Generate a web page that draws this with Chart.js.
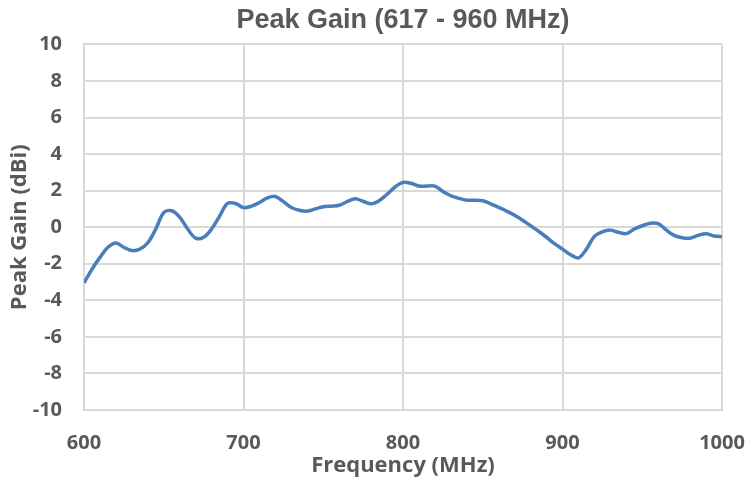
<!DOCTYPE html>
<html>
<head>
<meta charset="utf-8">
<script src="https://cdn.jsdelivr.net/npm/chart.js@4/dist/chart.umd.min.js"></script>
<style>
  html, body { margin: 0; padding: 0; background: #fff; }
  #wrap { width: 749px; height: 483px; }
</style>
</head>
<body>
<div id="wrap"><canvas id="gainChart" width="749" height="483"></canvas></div>
<script>
const freq = [600,605,610,615,620,625,630,635,640,645,650,655,660,665,670,675,680,685,690,695,
  700,705,710,715,720,725,730,735,740,745,750,755,760,765,770,775,780,785,790,795,
  800,805,810,815,820,825,830,835,840,845,850,855,860,865,870,875,880,885,890,895,
  900,905,910,915,920,925,930,935,940,945,950,955,960,965,970,975,980,985,990,995,1000];
const gain = [-3.05,-2.3,-1.65,-1.1,-0.86,-1.1,-1.28,-1.2,-0.85,-0.1,0.8,0.9,0.55,-0.1,-0.6,-0.55,-0.1,0.6,1.3,1.3,
  1.07,1.15,1.35,1.6,1.68,1.4,1.08,0.93,0.88,1.0,1.12,1.15,1.2,1.4,1.55,1.42,1.28,1.45,1.8,2.2,
  2.45,2.4,2.25,2.25,2.25,1.95,1.72,1.58,1.48,1.48,1.45,1.28,1.08,0.88,0.65,0.38,0.08,-0.22,-0.55,-0.9,
  -1.2,-1.5,-1.68,-1.2,-0.5,-0.25,-0.16,-0.28,-0.35,-0.1,0.08,0.22,0.2,-0.15,-0.45,-0.58,-0.6,-0.45,-0.36,-0.48,-0.52];
const xTicks = [600, 700, 800, 900, 1000];
const yTicks = [-10, -8, -6, -4, -2, 0, 2, 4, 6, 8, 10];

const textGray = "#595959";
const gridGray = "#d9d9d9";

new Chart(document.getElementById("gainChart"), {
  type: "line",
  data: {
    datasets: [{
      label: "Peak Gain",
      data: freq.map((f, i) => ({ x: f, y: gain[i] })),
      borderColor: "#4a7ebb",
      borderWidth: 3.5,
      tension: 0.35,
      pointRadius: 0,
      fill: false,
    }],
  },
  options: {
    responsive: false,
    animation: false,
    layout: { padding: { left: 0, right: 27, top: 0, bottom: 0 } },
    plugins: {
      legend: { display: false },
      tooltip: { enabled: false },
      title: {
        display: true,
        fullSize: false,
        text: "Peak Gain (617 - 960 MHz)",
        color: textGray,
        font: { family: "Liberation Sans", size: 27, weight: "bold", lineHeight: 1.2 },
        padding: { top: 4, bottom: 8 },
      },
    },
    scales: {
      x: {
        type: "linear",
        min: 600,
        max: 1000,
        afterBuildTicks: (axis) => { axis.ticks = xTicks.map(v => ({ value: v })); },
        afterFit: (axis) => {
          axis.height = 73;
          axis.paddingLeft = 0;
          axis.paddingRight = 0;
        },
        ticks: {
          color: textGray,
          padding: 21,
          callback: (v) => String(v),
          font: { family: "Open Sans", size: 20, weight: "bold" },
        },
        grid: { color: gridGray, lineWidth: 2, drawTicks: false },
        border: { color: gridGray, width: 2 },
        title: {
          display: true,
          text: "Frequency (MHz)",
          color: textGray,
          font: { family: "Open Sans", size: 22, weight: "bold" },
          padding: { top: 2, bottom: 4 },
        },
      },
      y: {
        min: -10,
        max: 10,
        afterBuildTicks: (axis) => { axis.ticks = yTicks.map(v => ({ value: v })); },
        afterFit: (axis) => { axis.width = 84; },
        ticks: {
          color: textGray,
          padding: 22,
          font: { family: "Open Sans", size: 20, weight: "bold" },
        },
        grid: { color: gridGray, lineWidth: 2, drawTicks: false },
        border: { color: gridGray, width: 2 },
        title: {
          display: true,
          text: "Peak Gain (dBi)",
          color: textGray,
          font: { family: "Open Sans", size: 22, weight: "bold" },
          padding: { top: 7, bottom: 4 },
        },
      },
    },
  },
});
</script>
</body>
</html>
